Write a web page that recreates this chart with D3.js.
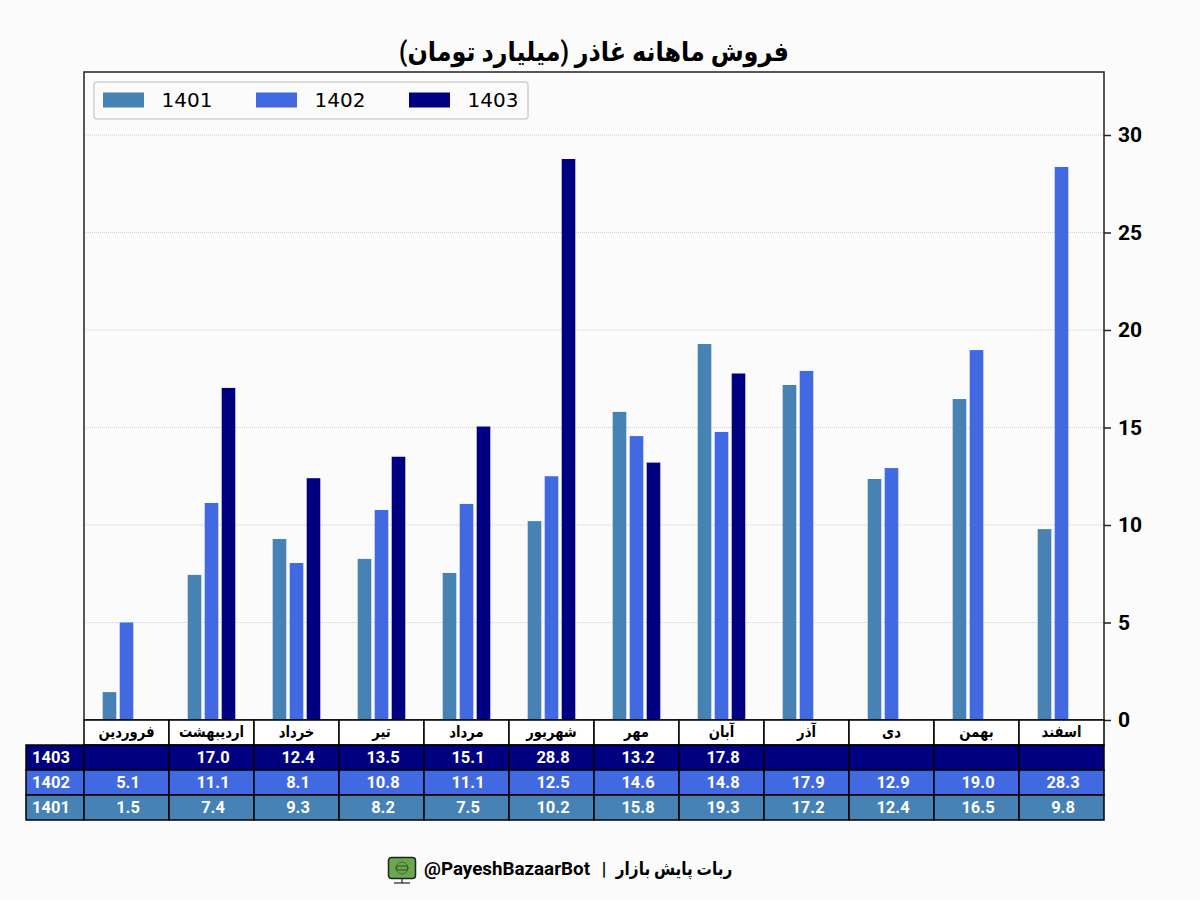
<!DOCTYPE html>
<html>
<head>
<meta charset="utf-8">
<script src="https://cdnjs.cloudflare.com/ajax/libs/d3/7.8.5/d3.min.js"></script>
<style>
html, body { margin: 0; padding: 0; background: #fbfbfb; }
svg { display: block; }
text { font-family: Roboto, "DejaVu Sans", sans-serif; }
</style>
</head>
<body>
<svg id="chart"></svg>
<script>
const months = ['فروردین', 'اردیبهشت', 'خرداد', 'تیر', 'مرداد', 'شهریور', 'مهر', 'آبان', 'آذر', 'دی', 'بهمن', 'اسفند'];
const years = ['1401', '1402', '1403'];

// Bar heights
const bars1401 = [1.43, 7.44, 9.28, 8.26, 7.54, 10.2, 15.8, 19.28, 17.18, 12.36, 16.46, 9.79];
const bars1402 = [5.0, 11.13, 8.05, 10.77, 11.08, 12.5, 14.56, 14.77, 17.9, 12.92, 18.97, 28.36];
const bars1403 = [null, 17.03, 12.4, 13.5, 15.05, 28.77, 13.2, 17.77, null, null, null, null];

// Numbers printed in the table
const table1401 = [1.5, 7.4, 9.3, 8.2, 7.5, 10.2, 15.8, 19.3, 17.2, 12.4, 16.5, 9.8];
const table1402 = [5.1, 11.1, 8.1, 10.8, 11.1, 12.5, 14.6, 14.8, 17.9, 12.9, 19.0, 28.3];
const table1403 = [null, 17.0, 12.4, 13.5, 15.1, 28.8, 13.2, 17.8, null, null, null, null];

const yTicks = [0, 5, 10, 15, 20, 25, 30];
const colors = ['#4682b4', '#4169e1', '#000080'];

const barSeries = [bars1401, bars1402, bars1403];
const tableSeries = [table1401, table1402, table1403];

const width = 1200, height = 900;
const margin = { top: 72, right: 96, bottom: 180, left: 84 };
const innerW = width - margin.left - margin.right;
const innerH = height - margin.top - margin.bottom;

const svg = d3.select('#chart').attr('width', width).attr('height', height);
svg.append('rect').attr('width', width).attr('height', height).attr('fill', '#fbfbfb');

const chart = svg.append('g').attr('transform', `translate(${margin.left},${margin.top})`);

const xScale = d3.scaleBand().domain(months).range([0, innerW]);
const yScale = d3.scaleLinear().domain([0, 648 / 19.5]).range([innerH, 0]);

// The Persian text only has the wide DejaVu bold here, so squeeze it a bit
function persianText(parent, x, y, size, squeeze, str) {
    return parent.append('text')
        .attr('transform', `translate(${x},${y}) scale(${squeeze},1)`)
        .attr('text-anchor', 'middle')
        .attr('direction', 'rtl')
        .attr('font-size', size)
        .attr('font-weight', 700)
        .attr('fill', '#000')
        .text(str);
}

// Grid lines
chart.append('g').selectAll('line')
    .data(yTicks.slice(1))
    .join('line')
    .attr('x1', 0).attr('x2', innerW)
    .attr('y1', d => yScale(d)).attr('y2', d => yScale(d))
    .attr('stroke', '#d0d0d0').attr('stroke-width', 1).attr('stroke-dasharray', '1,1');

// Bars, three per month
const barStep = 17, barWidth = 13.6;
years.forEach((year, i) => {
    chart.append('g').selectAll('rect')
        .data(barSeries[i].map((v, m) => ({ v, m: months[m] })).filter(d => d.v !== null))
        .join('rect')
        .attr('x', d => xScale(d.m) + xScale.bandwidth() / 2 + (i - 1) * barStep - barWidth / 2)
        .attr('width', barWidth)
        .attr('y', d => yScale(d.v))
        .attr('height', d => innerH - yScale(d.v))
        .attr('fill', colors[i]);
});

// Axis frame and right ticks
const yAxis = d3.axisRight(yScale).tickValues(yTicks).tickSize(7).tickPadding(7).tickSizeOuter(0);
const yAxisG = chart.append('g').attr('transform', `translate(${innerW},0)`).call(yAxis);
yAxisG.select('.domain').remove();
yAxisG.selectAll('line').attr('stroke', '#222').attr('stroke-width', 1.5);
yAxisG.selectAll('text').attr('font-size', 21).attr('font-weight', 700).attr('fill', '#000')
    .style('font-family', 'Roboto');
chart.append('rect').attr('width', innerW).attr('height', innerH)
    .attr('fill', 'none').attr('stroke', '#222').attr('stroke-width', 1.5);

// Table under the plot
const rowH = 25, headH = 25, labelW = 58;
const table = chart.append('g').attr('transform', `translate(0,${innerH})`);
const rows = [2, 1, 0];

table.selectAll('.head')
    .data(months)
    .join('rect').attr('class', 'head')
    .attr('x', d => xScale(d)).attr('y', 0)
    .attr('width', xScale.bandwidth()).attr('height', headH)
    .attr('fill', '#fff').attr('stroke', '#000').attr('stroke-width', 1.5);
months.forEach(m => {
    persianText(table, xScale(m) + xScale.bandwidth() / 2, 17, 15.5, 0.85, m);
});

rows.forEach((s, r) => {
    const y = headH + r * rowH;
    const row = table.append('g').attr('transform', `translate(0,${y})`);
    row.append('rect').attr('x', -labelW).attr('width', labelW).attr('height', rowH)
        .attr('fill', colors[s]).attr('stroke', '#000').attr('stroke-width', 1.5);
    row.append('text').attr('x', -labelW + 6).attr('y', 18)
        .attr('font-size', 16.5).attr('font-weight', 700).attr('fill', '#fff').text(years[s]);
    row.selectAll('rect.cell')
        .data(months)
        .join('rect').attr('class', 'cell')
        .attr('x', d => xScale(d)).attr('width', xScale.bandwidth()).attr('height', rowH)
        .attr('fill', colors[s]).attr('stroke', '#000').attr('stroke-width', 1.5);
    row.selectAll('text.cell')
        .data(tableSeries[s].map((v, m) => ({ v, m: months[m] })).filter(d => d.v !== null))
        .join('text').attr('class', 'cell')
        .attr('x', d => xScale(d.m) + xScale.bandwidth() / 2 + 1.5).attr('y', 18)
        .attr('text-anchor', 'middle').attr('font-size', 16.5).attr('font-weight', 700)
        .attr('fill', '#fff').text(d => d.v.toFixed(1));
});

// Legend
const legend = chart.append('g').attr('transform', 'translate(10,10)');
legend.append('rect').attr('width', 434).attr('height', 37).attr('rx', 3)
    .attr('fill', '#fbfbfb').attr('stroke', '#d0d0d0').attr('stroke-width', 1.5);
years.forEach((year, i) => {
    const g = legend.append('g').attr('transform', `translate(${9 + i * 153},0)`);
    g.append('rect').attr('y', 10.5).attr('width', 41).attr('height', 15).attr('fill', colors[i]);
    g.append('text').attr('x', 58.5).attr('y', 25).attr('font-size', 20)
        .style('font-family', '"DejaVu Sans"').attr('fill', '#000').text(year);
});

// Title
persianText(svg, 594, 61, 27, 0.885, 'فروش ماهانه غاذر (میلیارد تومان)');

// Footer
persianText(svg, 674, 875, 18, 0.85, 'ربات پایش بازار');
svg.append('text').attr('x', 604).attr('y', 875).attr('text-anchor', 'middle')
    .attr('font-size', 18).attr('font-weight', 700).attr('fill', '#000').text('|');
svg.append('text').attr('x', 590).attr('y', 875).attr('text-anchor', 'end')
    .attr('font-size', 18.8).attr('font-weight', 700).attr('fill', '#000').text('@PayeshBazaarBot');

// Monitor icon beside the footer
const icon = svg.append('g').attr('transform', 'translate(388,857)');
icon.append('rect').attr('x', 0.5).attr('y', 0.5).attr('width', 27).attr('height', 21).attr('rx', 3)
    .attr('fill', '#6aa84f').attr('stroke', '#222').attr('stroke-width', 1.5);
icon.append('circle').attr('cx', 14).attr('cy', 11).attr('r', 6)
    .attr('fill', 'none').attr('stroke', '#3d6b2c').attr('stroke-width', 1);
icon.append('rect').attr('x', 8).attr('y', 9).attr('width', 12).attr('height', 4).attr('rx', 2)
    .attr('fill', 'none').attr('stroke', '#2c4a22').attr('stroke-width', 1);
icon.append('line').attr('x1', 14).attr('x2', 14).attr('y1', 22).attr('y2', 26).attr('stroke', '#222').attr('stroke-width', 1.2);
icon.append('line').attr('x1', 6).attr('x2', 22).attr('y1', 26).attr('y2', 26).attr('stroke', '#222').attr('stroke-width', 1.2);
</script>
</body>
</html>
